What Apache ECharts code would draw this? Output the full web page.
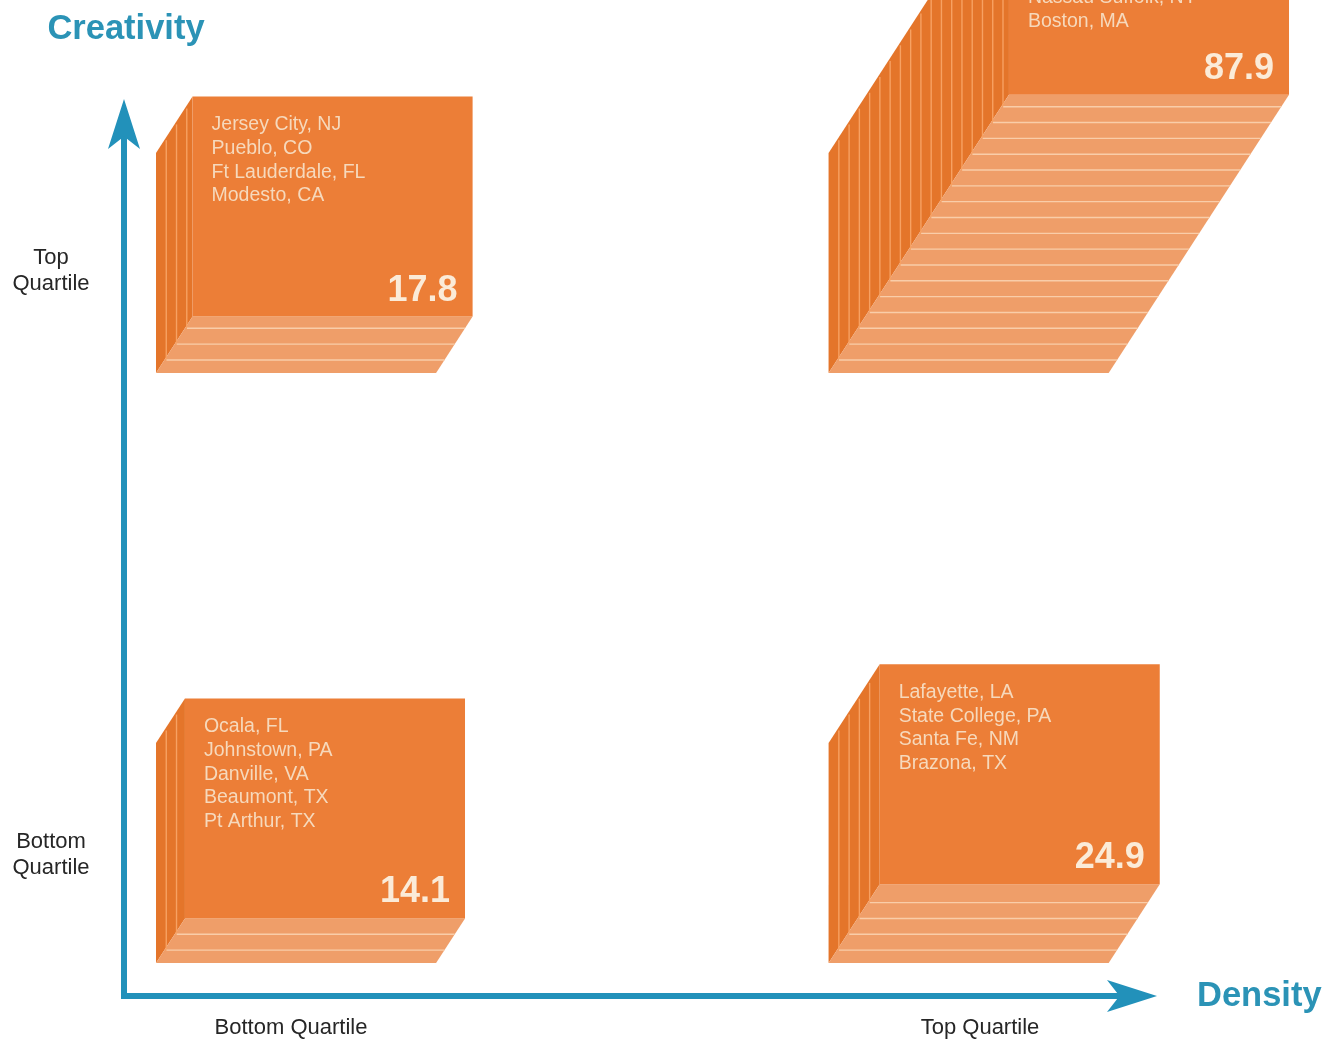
<!DOCTYPE html>
<html>
<head>
<meta charset="utf-8">
<style>html,body{margin:0;padding:0;background:#fff}#chart{width:1329px;height:1041px}</style>
<script src="https://cdn.jsdelivr.net/npm/echarts@6/dist/echarts.min.js"></script>
</head>
<body>
<div id="chart"></div>
<script>
// ---- data ----
const densityQuartile = ['Bottom Quartile', 'Top Quartile'];
const creativityQuartile = ['Top\nQuartile', 'Bottom\nQuartile'];

const blockDensity = [0, 1, 0, 1];      // index into densityQuartile
const blockCreativity = [0, 0, 1, 1];   // index into creativityQuartile
const blockValues = [17.8, 87.9, 14.1, 24.9];
const citiesJersey = ['Jersey City, NJ', 'Pueblo, CO', 'Ft Lauderdale, FL', 'Modesto, CA'];
const citiesBoston = ['', '', '', '', 'Nassau Suffolk, NY', 'Boston, MA']; // upper lines are cut off in the source
const citiesOcala = ['Ocala, FL', 'Johnstown, PA', 'Danville, VA', 'Beaumont, TX', 'Pt Arthur, TX'];
const citiesLafayette = ['Lafayette, LA', 'State College, PA', 'Santa Fe, NM', 'Brazona, TX'];
const blockCities = [citiesJersey, citiesBoston, citiesOcala, citiesLafayette];

// ---- layout, in axis units (one unit of value = one unit of depth on both axes) ----
const xMax = 490.3, yMax = 274.8;
const xLabelAt = [81.4, 417.2];
const yLabelAt = [229.0, 44.5];
const xAnchor = [15.6, 343.4];
const yAnchor = [196.8, 10.4];
const faceW = 136.5, faceH = 69.5;
const slabSize = 5;

const C = {
  front: '#EC7E37', side: '#E4752A', sideLine: '#F7A162',
  floor: '#EF9E69', floorLine: '#F9CDA9',
  axis: '#2291BA', name: '#2B93B6',
  label: '#262626', city: '#F6D9BC', value: '#FBEBD8'
};

function renderBlock(params, api) {
  const x0 = api.value(0), y0 = api.value(1), v = api.value(2);
  const idx = api.value(3);
  const poly = (pts, fill) => ({
    type: 'polygon', shape: { points: pts.map(p => api.coord(p)) }, style: { fill: fill }
  });
  const line = (a, b, stroke) => {
    const p = api.coord(a), q = api.coord(b);
    return { type: 'line', shape: { x1: p[0], y1: p[1], x2: q[0], y2: q[1] }, style: { stroke: stroke, lineWidth: 1.4 } };
  };
  const kids = [];
  kids.push(poly([[x0, y0], [x0, y0 + faceH], [x0 + v, y0 + v + faceH], [x0 + v, y0 + v]], C.side));
  kids.push(poly([[x0, y0], [x0 + faceW, y0], [x0 + faceW + v, y0 + v], [x0 + v, y0 + v]], C.floor));
  const n = Math.floor(v / slabSize);
  for (let k = 1; k <= n; k++) {
    const d = k * slabSize;
    kids.push(line([x0 + d, y0 + d - 1 + faceH], [x0 + d, y0 + d - 1], C.sideLine));
    const dy = d - 0.9;
    kids.push(line([x0 + dy + 1, y0 + dy], [x0 + faceW + dy, y0 + dy], C.floorLine));
  }
  const tl = api.coord([x0 + v, y0 + v + faceH]);
  const br = api.coord([x0 + v + faceW, y0 + v]);
  kids.push({ type: 'rect', shape: { x: tl[0], y: tl[1], width: br[0] - tl[0], height: br[1] - tl[1] }, style: { fill: C.front } });
  kids.push({
    type: 'text',
    style: {
      x: tl[0] + 19, y: tl[1] + 16.5,
      text: blockCities[idx].join('\n'),
      fill: C.city, font: '19.5px "Liberation Sans", Arial, sans-serif',
      lineHeight: 23.7, align: 'left', verticalAlign: 'top'
    }
  });
  kids.push({
    type: 'text',
    style: {
      x: br[0] - 15, y: br[1] - 26,
      text: v.toFixed(1),
      fill: C.value, font: 'bold 36px "Liberation Sans", Arial, sans-serif',
      align: 'right', verticalAlign: 'middle'
    }
  });
  return { type: 'group', children: kids };
}

const blockData = blockValues.map((v, i) => [xAnchor[blockDensity[i]], yAnchor[blockCreativity[i]], v, i]);

const chart = echarts.init(document.getElementById('chart'), null, { renderer: 'canvas' });
const axisFont = '"Liberation Sans", Arial, sans-serif';
chart.setOption({
  animation: false,
  backgroundColor: '#ffffff',
  grid: { left: 124, right: 199, top: 126, bottom: 45 },
  xAxis: {
    type: 'value', min: 0, max: xMax,
    name: 'Density', nameLocation: 'end', nameGap: 67,
    nameTextStyle: { color: C.name, fontFamily: axisFont, fontWeight: 'bold', fontSize: 34.5, align: 'left', verticalAlign: 'middle' },
    splitLine: { show: false }, axisTick: { show: false },
    axisLine: { onZero: false, symbol: ['none', 'arrow'], symbolSize: [24, 50], symbolOffset: [0, 27], lineStyle: { color: C.axis, width: 6, cap: 'square' } },
    axisLabel: {
      customValues: xLabelAt, margin: 21, color: C.label, fontFamily: axisFont, fontSize: 22,
      formatter: val => densityQuartile[xLabelAt.indexOf(val)]
    }
  },
  yAxis: {
    type: 'value', min: 0, max: yMax,
    name: 'Creativity', nameLocation: 'end', nameGap: 79,
    nameTextStyle: { color: C.name, fontFamily: axisFont, fontWeight: 'bold', fontSize: 34.5, align: 'center', padding: [0, 0, 0, 4] },
    splitLine: { show: false }, axisTick: { show: false },
    axisLine: { onZero: false, symbol: ['none', 'arrow'], symbolSize: [24, 50], symbolOffset: [0, 27], lineStyle: { color: C.axis, width: 6, cap: 'square' } },
    axisLabel: {
      customValues: yLabelAt, margin: 73, color: C.label, fontFamily: axisFont, fontSize: 22,
      lineHeight: 26.5, align: 'center',
      formatter: val => creativityQuartile[yLabelAt.indexOf(val)]
    }
  },
  series: [{
    type: 'custom', coordinateSystem: 'cartesian2d', clip: false,
    encode: { x: 0, y: 1 },
    data: blockData, renderItem: renderBlock, silent: true
  }]
});
</script>
</body>
</html>
